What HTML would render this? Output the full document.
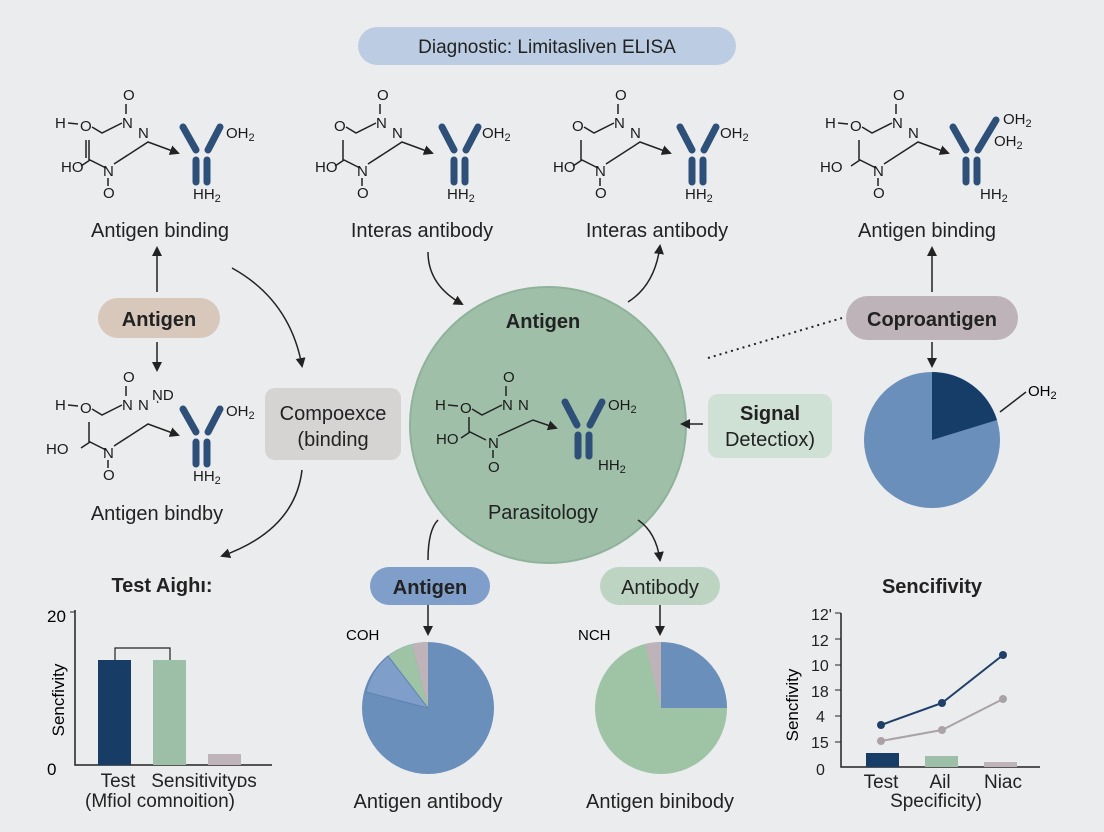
<!DOCTYPE html>
<html><head><meta charset="utf-8"><style>
body{margin:0;background:#ebecee;}
svg{display:block;font-family:"Liberation Sans",sans-serif;}
.m text{font-size:15px;fill:#1a1a1a}
.l{font-size:20px;fill:#222;text-anchor:middle}
</style></head><body>
<svg width="1104" height="832" viewBox="0 0 1104 832">
<defs>
<marker id="a" markerWidth="10" markerHeight="10" refX="8" refY="5" orient="auto" markerUnits="userSpaceOnUse"><path d="M0,0 L10,5 L0,10 z" fill="#222"/></marker>
</defs>
<rect width="1104" height="832" fill="#ebecee"/>
<rect x="358" y="27" width="378" height="38" rx="19" fill="#bccde3"/>
<text x="547" y="53" class="l" style="font-size:19px">Diagnostic: Limitasliven ELISA</text>

<g class="m" transform="translate(28,80)">
<text x="27" y="48">H</text><line x1="40" y1="43" x2="50" y2="44" stroke="#222" stroke-width="1.5"/>
<text x="52" y="51">O</text><polyline points="64,47 74,53 94,43" fill="none" stroke="#222" stroke-width="1.5"/>
<text x="95" y="20">O</text><line x1="98" y1="24" x2="98" y2="34" stroke="#222" stroke-width="1.5"/>
<text x="94" y="48">N</text><text x="110" y="58">N</text>
<text x="33" y="92">HO</text><polyline points="53,86 62,80 78,88" fill="none" stroke="#222" stroke-width="1.5"/>
<line x1="61" y1="80" x2="61" y2="60" stroke="#222" stroke-width="1.5"/><line x1="58" y1="78" x2="58" y2="60" stroke="#222" stroke-width="1.5"/>
<text x="75" y="96">N</text><line x1="80" y1="98" x2="80" y2="106" stroke="#222" stroke-width="1.5"/><text x="75" y="118">O</text>
<polyline points="86,84 120,62 150,73" fill="none" stroke="#222" stroke-width="1.5" marker-end="url(#a)"/>
<line x1="155" y1="47" x2="168" y2="70" stroke="#2d4f78" stroke-width="7" stroke-linecap="round"/>
<line x1="192" y1="47" x2="180" y2="70" stroke="#2d4f78" stroke-width="7" stroke-linecap="round"/>
<line x1="168" y1="80" x2="168" y2="102" stroke="#2d4f78" stroke-width="7" stroke-linecap="round"/>
<line x1="179" y1="80" x2="179" y2="102" stroke="#2d4f78" stroke-width="7" stroke-linecap="round"/>
<text x="198" y="58">OH<tspan font-size="11" dy="3">2</tspan></text>
<text x="165" y="119">HH<tspan font-size="11" dy="3">2</tspan></text>
</g>
<g class="m" transform="translate(282,80)">
<text x="52" y="51">O</text><polyline points="64,47 74,53 94,43" fill="none" stroke="#222" stroke-width="1.5"/>
<text x="95" y="20">O</text><line x1="98" y1="24" x2="98" y2="34" stroke="#222" stroke-width="1.5"/>
<text x="94" y="48">N</text><text x="110" y="58">N</text>
<text x="33" y="92">HO</text><polyline points="53,86 62,80 78,88" fill="none" stroke="#222" stroke-width="1.5"/>
<line x1="61" y1="80" x2="61" y2="60" stroke="#222" stroke-width="1.5"/>
<text x="75" y="96">N</text><line x1="80" y1="98" x2="80" y2="106" stroke="#222" stroke-width="1.5"/><text x="75" y="118">O</text>
<polyline points="86,84 120,62 150,73" fill="none" stroke="#222" stroke-width="1.5" marker-end="url(#a)"/>
<line x1="160" y1="47" x2="172" y2="70" stroke="#2d4f78" stroke-width="7" stroke-linecap="round"/>
<line x1="196" y1="47" x2="184" y2="70" stroke="#2d4f78" stroke-width="7" stroke-linecap="round"/>
<line x1="172" y1="80" x2="172" y2="102" stroke="#2d4f78" stroke-width="7" stroke-linecap="round"/>
<line x1="183" y1="80" x2="183" y2="102" stroke="#2d4f78" stroke-width="7" stroke-linecap="round"/>
<text x="200" y="58">OH<tspan font-size="11" dy="3">2</tspan></text>
<text x="165" y="119">HH<tspan font-size="11" dy="3">2</tspan></text>
</g>
<g class="m" transform="translate(520,80)">
<text x="52" y="51">O</text><polyline points="64,47 74,53 94,43" fill="none" stroke="#222" stroke-width="1.5"/>
<text x="95" y="20">O</text><line x1="98" y1="24" x2="98" y2="34" stroke="#222" stroke-width="1.5"/>
<text x="94" y="48">N</text><text x="110" y="58">N</text>
<text x="33" y="92">HO</text><polyline points="53,86 62,80 78,88" fill="none" stroke="#222" stroke-width="1.5"/>
<line x1="61" y1="80" x2="61" y2="60" stroke="#222" stroke-width="1.5"/>
<text x="75" y="96">N</text><line x1="80" y1="98" x2="80" y2="106" stroke="#222" stroke-width="1.5"/><text x="75" y="118">O</text>
<polyline points="86,84 120,62 150,73" fill="none" stroke="#222" stroke-width="1.5" marker-end="url(#a)"/>
<line x1="160" y1="47" x2="172" y2="70" stroke="#2d4f78" stroke-width="7" stroke-linecap="round"/>
<line x1="196" y1="47" x2="184" y2="70" stroke="#2d4f78" stroke-width="7" stroke-linecap="round"/>
<line x1="172" y1="80" x2="172" y2="102" stroke="#2d4f78" stroke-width="7" stroke-linecap="round"/>
<line x1="183" y1="80" x2="183" y2="102" stroke="#2d4f78" stroke-width="7" stroke-linecap="round"/>
<text x="200" y="58">OH<tspan font-size="11" dy="3">2</tspan></text>
<text x="165" y="119">HH<tspan font-size="11" dy="3">2</tspan></text>
</g>
<g class="m" transform="translate(798,80)">
<text x="27" y="48">H</text><line x1="40" y1="43" x2="50" y2="44" stroke="#222" stroke-width="1.5"/>
<text x="52" y="51">O</text><polyline points="64,47 74,53 94,43" fill="none" stroke="#222" stroke-width="1.5"/>
<text x="95" y="20">O</text><line x1="98" y1="24" x2="98" y2="34" stroke="#222" stroke-width="1.5"/>
<text x="94" y="48">N</text><text x="110" y="58">N</text>
<text x="22" y="92">HO</text><polyline points="53,86 62,80 78,88" fill="none" stroke="#222" stroke-width="1.5"/>
<line x1="61" y1="80" x2="61" y2="60" stroke="#222" stroke-width="1.5"/>
<text x="75" y="96">N</text><line x1="80" y1="98" x2="80" y2="106" stroke="#222" stroke-width="1.5"/><text x="75" y="118">O</text>
<polyline points="86,84 120,62 150,73" fill="none" stroke="#222" stroke-width="1.5" marker-end="url(#a)"/>
<line x1="155" y1="47" x2="168" y2="70" stroke="#2d4f78" stroke-width="7" stroke-linecap="round"/>
<line x1="198" y1="40" x2="180" y2="70" stroke="#2d4f78" stroke-width="7" stroke-linecap="round"/>
<line x1="168" y1="80" x2="168" y2="102" stroke="#2d4f78" stroke-width="7" stroke-linecap="round"/>
<line x1="179" y1="80" x2="179" y2="102" stroke="#2d4f78" stroke-width="7" stroke-linecap="round"/>
<text x="205" y="44">OH<tspan font-size="11" dy="3">2</tspan></text>
<text x="196" y="66">OH<tspan font-size="11" dy="3">2</tspan></text>
<text x="182" y="119">HH<tspan font-size="11" dy="3">2</tspan></text>
</g>
<g class="m" transform="translate(28,362)">
<text x="27" y="48">H</text><line x1="40" y1="43" x2="50" y2="44" stroke="#222" stroke-width="1.5"/>
<text x="52" y="51">O</text><polyline points="64,47 74,53 94,43" fill="none" stroke="#222" stroke-width="1.5"/>
<text x="95" y="20">O</text><line x1="98" y1="24" x2="98" y2="34" stroke="#222" stroke-width="1.5"/>
<text x="94" y="48">N</text><text x="110" y="48" font-size="12">N</text><text x="124" y="38" font-size="11">NͅD</text>
<text x="18" y="92">HO</text><polyline points="53,86 62,80 78,88" fill="none" stroke="#222" stroke-width="1.5"/>
<line x1="61" y1="80" x2="61" y2="60" stroke="#222" stroke-width="1.5"/>
<text x="75" y="96">N</text><line x1="80" y1="98" x2="80" y2="106" stroke="#222" stroke-width="1.5"/><text x="75" y="118">O</text>
<polyline points="86,84 120,62 150,73" fill="none" stroke="#222" stroke-width="1.5" marker-end="url(#a)"/>
<line x1="155" y1="47" x2="168" y2="70" stroke="#2d4f78" stroke-width="7" stroke-linecap="round"/>
<line x1="192" y1="47" x2="180" y2="70" stroke="#2d4f78" stroke-width="7" stroke-linecap="round"/>
<line x1="168" y1="80" x2="168" y2="102" stroke="#2d4f78" stroke-width="7" stroke-linecap="round"/>
<line x1="179" y1="80" x2="179" y2="102" stroke="#2d4f78" stroke-width="7" stroke-linecap="round"/>
<text x="198" y="54">OH<tspan font-size="11" dy="3">2</tspan></text>
<text x="165" y="119">HH<tspan font-size="11" dy="3">2</tspan></text>
</g>

<text x="160" y="237" class="l">Antigen binding</text>
<text x="422" y="237" class="l">Interas antibody</text>
<text x="657" y="237" class="l">Interas antibody</text>
<text x="927" y="237" class="l">Antigen binding</text>

<circle cx="548" cy="425" r="138" fill="#9fbfa9" stroke="#8fb29a" stroke-width="2"/>
<g class="m" transform="translate(408,362)">
<text x="27" y="48">H</text><line x1="40" y1="43" x2="50" y2="44" stroke="#222" stroke-width="1.5"/>
<text x="52" y="51">O</text><polyline points="64,47 74,53 94,43" fill="none" stroke="#222" stroke-width="1.5"/>
<text x="95" y="20">O</text><line x1="98" y1="24" x2="98" y2="34" stroke="#222" stroke-width="1.5"/>
<text x="94" y="48">N</text><text x="110" y="48">N</text>
<text x="28" y="82">HO</text><polyline points="53,76 62,70 78,78" fill="none" stroke="#222" stroke-width="1.5"/>
<line x1="61" y1="70" x2="61" y2="55" stroke="#222" stroke-width="1.5"/>
<text x="80" y="86">N</text><line x1="85" y1="88" x2="85" y2="96" stroke="#222" stroke-width="1.5"/><text x="80" y="110">O</text>
<polyline points="90,74 125,58 148,66" fill="none" stroke="#222" stroke-width="1.5" marker-end="url(#a)"/>
<line x1="157" y1="40" x2="169" y2="63" stroke="#2d4f78" stroke-width="7" stroke-linecap="round"/>
<line x1="194" y1="40" x2="182" y2="63" stroke="#2d4f78" stroke-width="7" stroke-linecap="round"/>
<line x1="170" y1="73" x2="170" y2="94" stroke="#2d4f78" stroke-width="7" stroke-linecap="round"/>
<line x1="181" y1="73" x2="181" y2="94" stroke="#2d4f78" stroke-width="7" stroke-linecap="round"/>
<text x="200" y="48">OH<tspan font-size="11" dy="3">2</tspan></text>
<text x="190" y="108">HH<tspan font-size="11" dy="3">2</tspan></text>
</g>
<text x="543" y="328" class="l" style="font-weight:bold">Antigen</text>
<text x="543" y="519" class="l">Parasitology</text>

<rect x="98" y="298" width="122" height="40" rx="20" fill="#d8c7bb"/>
<text x="159" y="326" class="l" style="font-weight:bold">Antigen</text>
<rect x="265" y="388" width="136" height="72" rx="10" fill="#d6d3d3"/>
<text x="333" y="420" class="l">Compoexce</text><text x="333" y="446" class="l">(binding</text>
<rect x="708" y="394" width="124" height="64" rx="10" fill="#cfe0d5"/>
<text x="770" y="420" class="l" style="font-weight:bold">Signal</text><text x="770" y="446" class="l">Detectiox)</text>
<rect x="846" y="296" width="172" height="44" rx="22" fill="#bdb3b8"/>
<text x="932" y="326" class="l" style="font-weight:bold">Coproantigen</text>

<circle cx="932" cy="440" r="68" fill="#6a8fba"/>
<path d="M932,440 L932,372 A68,68 0 0,1 997,420 z" fill="#163d68"/>
<line x1="1000" y1="412" x2="1026" y2="392" stroke="#222" stroke-width="1.5"/>
<text x="1028" y="396" style="font-size:15px">OH<tspan font-size="11" dy="3">2</tspan></text>

<text x="157" y="520" class="l">Antigen bindby</text>

<g fill="none" stroke="#222" stroke-width="1.5" marker-end="url(#a)">
<line x1="157" y1="292" x2="157" y2="248"/>
<line x1="157" y1="342" x2="157" y2="370"/>
<path d="M232,268 Q290,300 302,366"/>
<path d="M428,252 Q428,285 462,304"/>
<path d="M628,302 Q655,285 660,246"/>
<line x1="932" y1="292" x2="932" y2="248"/>
<line x1="932" y1="342" x2="932" y2="366"/>
<line x1="703" y1="424" x2="682" y2="424"/>
<path d="M302,470 Q295,530 222,556"/>
<path d="M638,520 Q656,532 660,560"/>
<line x1="428" y1="605" x2="428" y2="634"/>
<line x1="660" y1="605" x2="660" y2="634"/>
</g>
<path d="M438,520 Q428,530 428,560" fill="none" stroke="#222" stroke-width="1.5"/>
<line x1="708" y1="358" x2="842" y2="318" stroke="#222" stroke-width="2" stroke-dasharray="2,4"/>

<text x="162" y="592" class="l" style="font-weight:bold">Test Aighı:</text>
<text x="47" y="622" style="font-size:17px">20</text>
<text x="47" y="775" style="font-size:17px">0</text>
<text x="64" y="700" style="font-size:17px" transform="rotate(-90 64 700)" text-anchor="middle">Sencfivity</text>
<polyline points="75,610 75,765 272,765" fill="none" stroke="#222" stroke-width="1.5"/>
<line x1="70" y1="612" x2="75" y2="612" stroke="#222"/>
<rect x="98" y="660" width="33" height="105" fill="#173d67"/>
<rect x="153" y="660" width="33" height="105" fill="#9dbfa8"/>
<rect x="208" y="754" width="33" height="11" fill="#bdb3b8"/>
<polyline points="115,660 115,648 170,648 170,660" fill="none" stroke="#222" stroke-width="1.2"/>
<text x="118" y="787" class="l" style="font-size:19px">Test</text>
<text x="204" y="787" class="l" style="font-size:19px">Sensitivityᴅs</text>
<text x="160" y="807" class="l" style="font-size:19px">(Mfiol comnoition)</text>

<rect x="370" y="567" width="120" height="38" rx="19" fill="#7f9ec9"/>
<text x="430" y="594" class="l" style="font-weight:bold">Antigen</text>
<text x="346" y="640" style="font-size:15px">COH</text>
<circle cx="428" cy="708" r="66" fill="#6a8fba"/>
<path d="M428,708 L428,642 A66,66 0 0,0 412,644 z" fill="#bdb3b8"/>
<path d="M428,708 L412,644 A66,66 0 0,0 388,656 z" fill="#9fc3a5"/>
<path d="M428,708 L388,656 A66,66 0 0,0 366,692 z" fill="#7f9ec9" stroke="#5f82b0"/>
<text x="428" y="808" class="l">Antigen antibody</text>

<rect x="600" y="567" width="120" height="38" rx="19" fill="#bcd4c1"/>
<text x="660" y="594" class="l">Antibody</text>
<text x="578" y="640" style="font-size:15px">NCH</text>
<circle cx="661" cy="708" r="66" fill="#9fc3a5"/>
<path d="M661,708 L661,642 A66,66 0 0,1 727,708 z" fill="#6a8fba"/>
<path d="M661,708 L661,642 A66,66 0 0,0 645,644 z" fill="#bdb3b8"/>
<text x="660" y="808" class="l">Antigen binibody</text>

<text x="932" y="593" class="l" style="font-weight:bold">Sencifivity</text>
<g style="font-size:16px" fill="#222">
<text x="811" y="620">12'</text><text x="811" y="646">12</text><text x="811" y="671">10</text>
<text x="811" y="697">18</text><text x="816" y="722">4</text><text x="811" y="748">15</text><text x="816" y="775">0</text>
</g>
<text x="798" y="705" style="font-size:17px" transform="rotate(-90 798 705)" text-anchor="middle">Sencfivity</text>
<polyline points="841,613 841,767 1040,767" fill="none" stroke="#222" stroke-width="1.5"/>
<g stroke="#222"><line x1="835" y1="613" x2="841" y2="613"/><line x1="835" y1="639" x2="841" y2="639"/><line x1="835" y1="665" x2="841" y2="665"/><line x1="835" y1="690" x2="841" y2="690"/><line x1="835" y1="716" x2="841" y2="716"/><line x1="835" y1="742" x2="841" y2="742"/></g>
<rect x="866" y="753" width="33" height="14" fill="#173d67"/>
<rect x="925" y="756" width="33" height="11" fill="#9dbfa8"/>
<rect x="984" y="762" width="33" height="5" fill="#bdb3b8"/>
<polyline points="881,741 942,730 1003,699" fill="none" stroke="#aaa2a6" stroke-width="2"/>
<g fill="#aaa2a6"><circle cx="881" cy="741" r="4"/><circle cx="942" cy="730" r="4"/><circle cx="1003" cy="699" r="4"/></g>
<polyline points="881,725 942,703 1003,655" fill="none" stroke="#1f3f68" stroke-width="2"/>
<g fill="#1f3f68"><circle cx="881" cy="725" r="4"/><circle cx="942" cy="703" r="4"/><circle cx="1003" cy="655" r="4"/></g>
<text x="881" y="788" class="l" style="font-size:19px">Test</text>
<text x="940" y="788" class="l" style="font-size:19px">Ail</text>
<text x="1003" y="788" class="l" style="font-size:19px">Niac</text>
<text x="936" y="807" class="l" style="font-size:19px">Specificity)</text>
</svg>
</body></html>
